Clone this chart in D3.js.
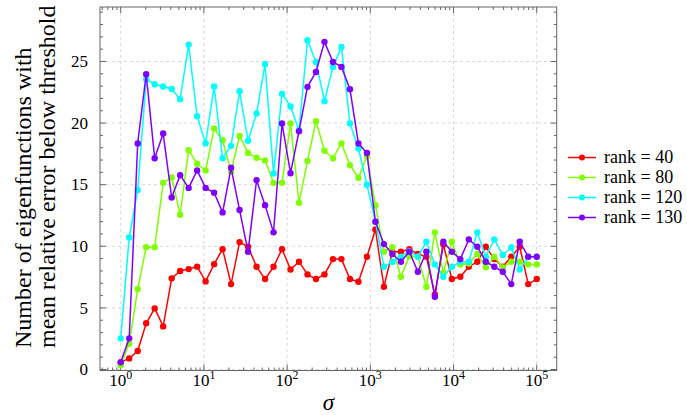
<!DOCTYPE html>
<html><head><meta charset="utf-8">
<script src="https://cdn.jsdelivr.net/npm/d3@7"></script>
<style>body{margin:0;background:#fff}svg{display:block}</style>
</head><body>
<svg id="c" width="687" height="415"></svg>
<script>
// sigma values: logspace(0,5,50)
const sigmaExp = d3.range(50).map(i => i * 5 / 49);
const rank40 = [0.6,0.9,1.5,3.75,4.96,3.5,7.4,8.0,8.15,8.35,7.15,8.55,9.77,6.93,10.34,9.96,8.34,7.34,8.34,9.77,8.12,8.75,7.72,7.34,7.72,8.96,8.96,7.34,7.12,9.15,11.37,6.72,9.56,9.56,9.77,9.37,9.15,6.1,10.15,7.34,7.53,8.34,8.75,9.96,8.96,8.34,9.15,9.96,6.93,7.34];
const rank80 = [0.35,2.1,6.53,9.93,9.93,15.15,15.59,12.56,17.8,16.7,16.15,19.56,18.6,16.05,18.96,17.58,17.18,16.96,15.15,15.15,19.97,13.53,16.93,20.15,17.75,17.15,18.35,16.59,15.56,17.3,13.34,9.56,9.93,7.53,9.2,9.15,6.72,11.13,7.88,10.37,8.53,8.6,9.37,8.29,9.15,8.29,8.75,8.75,8.53,8.53];
const rank120 = [2.53,10.72,14.56,23.56,23.15,22.97,22.77,21.94,26.37,20.56,18.35,22.97,17.15,18.15,22.59,18.56,20.78,24.78,15.91,22.37,21.35,19.42,26.72,24.96,21.77,24.56,26.18,19.97,17.94,15.0,12.0,8.34,8.75,9.15,9.6,9.15,10.37,8.53,7.53,8.34,8.75,8.75,11.13,9.15,10.56,9.3,9.9,8.12,9.15,9.15];
const rank130 = [0.58,2.53,18.35,23.96,17.15,19.15,13.96,15.77,14.74,16.15,14.74,14.34,12.75,16.37,12.94,9.56,15.37,13.34,11.13,19.97,15.93,19.34,22.94,24.15,26.59,24.96,24.56,22.75,18.35,17.58,11.99,10.18,9.37,8.75,9.56,7.93,9.56,5.9,10.37,9.56,8.96,10.56,9.96,8.75,8.34,7.93,6.93,10.37,9.15,9.15];
const seriesNames = ["rank = 40","rank = 80","rank = 120","rank = 130"];
const seriesColors = ["#ff0000","#80ff00","#00ffff","#8000ff"];
const xTickExps = [0,1,2,3,4,5];
const yTicks = [0,5,10,15,20,25];

const series = [rank40, rank80, rank120, rank130];
const svg = d3.select("#c");
const L = 100, T = 7, R = 556.7, B = 370.5;
const x = d3.scaleLog().domain([Math.pow(10,-0.249), Math.pow(10,5.24)]).range([L, R]);
const y = d3.scaleLinear().domain([-0.08, 29.42]).range([B, T]);
const serif = "'Liberation Serif','Times New Roman',serif";
const frameCol = "#666";

// gridlines
const g = svg.append("g");
xTickExps.forEach(e => {
  g.append("line").attr("x1", x(Math.pow(10,e))).attr("x2", x(Math.pow(10,e)))
   .attr("y1", T).attr("y2", B).attr("stroke", "#d8d8d8").attr("stroke-dasharray","3,3").attr("stroke-width",1);
});
yTicks.forEach(v => {
  g.append("line").attr("x1", L).attr("x2", R).attr("y1", y(v)).attr("y2", y(v))
   .attr("stroke", "#d8d8d8").attr("stroke-dasharray","3,3").attr("stroke-width",1);
});

// ticks (inward, all sides)
const ticks = svg.append("g").attr("stroke", frameCol).attr("stroke-width", 1);
const xd = x.domain();
for (let e = -1; e <= 5; e++) {
  for (let m = 1; m <= 9; m++) {
    const v = m * Math.pow(10, e);
    if (v < xd[0] || v > xd[1]) continue;
    const len = m === 1 ? 6 : 3;
    const px = x(v);
    ticks.append("line").attr("x1", px).attr("x2", px).attr("y1", B).attr("y2", B - len);
    ticks.append("line").attr("x1", px).attr("x2", px).attr("y1", T).attr("y2", T + len);
  }
}
for (let v = 0; v <= 29; v++) {
  const len = v % 5 === 0 ? 6 : 3;
  const py = y(v);
  ticks.append("line").attr("x1", L).attr("x2", L + len).attr("y1", py).attr("y2", py);
  ticks.append("line").attr("x1", R).attr("x2", R - len).attr("y1", py).attr("y2", py);
}

// frame
svg.append("rect").attr("x", L).attr("y", T).attr("width", R - L).attr("height", B - T)
  .attr("fill", "none").attr("stroke", frameCol).attr("stroke-width", 1);

// y tick labels
yTicks.forEach(v => {
  svg.append("text").attr("x", 88).attr("y", y(v)).attr("dy", "0.34em")
    .attr("text-anchor", "end").attr("font-family", serif).attr("font-size", 17).text(v);
});
// x tick labels
xTickExps.forEach(e => {
  const t = svg.append("text").attr("x", x(Math.pow(10,e))).attr("y", 386)
    .attr("text-anchor", "middle").attr("font-family", serif).attr("font-size", 17);
  t.append("tspan").text("10");
  t.append("tspan").attr("font-size", 12).attr("dy", -7).text(e);
});
// axis titles
svg.append("text").attr("x", (L + R) / 2).attr("y", 410).attr("text-anchor", "middle")
  .attr("font-family", serif).attr("font-style", "italic").attr("font-size", 23).text("σ");
const yt = svg.append("g").attr("transform", "translate(0,348) rotate(-90)");
yt.append("text").attr("x", 0).attr("y", 31).attr("font-family", serif).attr("font-size", 24)
  .text("Number of eigenfunctions with");
yt.append("text").attr("x", 0).attr("y", 55).attr("font-family", serif).attr("font-size", 24)
  .text("mean relative error below threshold");

// series
const line = d3.line().x((d, i) => x(Math.pow(10, sigmaExp[i]))).y(d => y(d));
series.forEach((s, k) => {
  const gg = svg.append("g");
  gg.append("path").datum(s).attr("d", line).attr("fill", "none")
    .attr("stroke", seriesColors[k]).attr("stroke-width", 1.5);
  gg.selectAll("circle").data(s).join("circle")
    .attr("cx", (d, i) => x(Math.pow(10, sigmaExp[i]))).attr("cy", d => y(d))
    .attr("r", 3.2).attr("fill", seriesColors[k]);
});

// legend
const lg = svg.append("g");
seriesNames.forEach((n, k) => {
  const yy = 157.5 + k * 20;
  lg.append("line").attr("x1", 568).attr("x2", 596).attr("y1", yy).attr("y2", yy)
    .attr("stroke", seriesColors[k]).attr("stroke-width", 1.5);
  lg.append("circle").attr("cx", 582).attr("cy", yy).attr("r", 3).attr("fill", seriesColors[k]);
  lg.append("text").attr("x", 604).attr("y", yy).attr("dy", "0.33em")
    .attr("font-family", serif).attr("font-size", 18).text(n);
});
</script>
</body></html>
